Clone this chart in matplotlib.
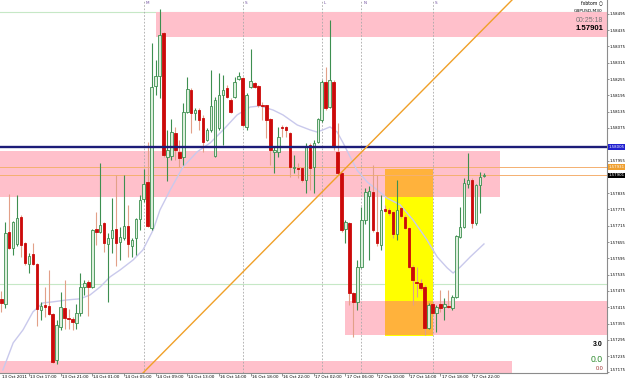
import matplotlib
matplotlib.use("Agg")
from matplotlib import pyplot as plt
from matplotlib import font_manager
from matplotlib.patches import Rectangle

# GBPUSD M30 candles, oldest first
opens = [1.57446, 1.57427, 1.57692, 1.57633, 1.57648, 1.57747, 1.57652, 1.57575, 1.57611, 1.57575,
         1.57405, 1.57424, 1.57420, 1.57391, 1.57221, 1.57343, 1.57413, 1.57376, 1.57372, 1.57357,
         1.57394, 1.57490, 1.57508, 1.57490, 1.57703, 1.57692, 1.57725, 1.57648, 1.57670, 1.57703,
         1.57655, 1.57670, 1.57714, 1.57641, 1.57670, 1.57740, 1.57814, 1.57876, 1.57707, 1.58230,
         1.58266, 1.58425, 1.57968, 1.57972, 1.58057, 1.57987, 1.57968, 1.58134, 1.58215, 1.58130,
         1.58141, 1.58112, 1.58031, 1.58068, 1.57972, 1.58075, 1.58196, 1.58222, 1.58178, 1.58189,
         1.58255, 1.58259, 1.58079, 1.58226, 1.58241, 1.58230, 1.58160, 1.58160, 1.58108, 1.57987,
         1.57987, 1.58079, 1.58079, 1.58057, 1.57928, 1.57928, 1.57928, 1.57884, 1.58012, 1.57931,
         1.58023, 1.58104, 1.58244, 1.58152, 1.58244, 1.57987, 1.57909, 1.57703, 1.57725, 1.57468,
         1.57435, 1.57563, 1.57736, 1.57825, 1.57839, 1.57692, 1.57644, 1.57777, 1.57773, 1.57766,
         1.57685, 1.57781, 1.57747, 1.57707, 1.57563, 1.57508, 1.57505, 1.57490, 1.57339, 1.57427,
         1.57394, 1.57427, 1.57416, 1.57420, 1.57413, 1.57453, 1.57674, 1.57711, 1.57869, 1.57884,
         1.57725, 1.57865, 1.57898]
highs = [1.57475, 1.57729, 1.57832, 1.57733, 1.57828, 1.57755, 1.57655, 1.57615, 1.57652, 1.57578,
         1.57435, 1.57490, 1.57552, 1.57394, 1.57368, 1.57471, 1.57516, 1.57409, 1.57379, 1.57427,
         1.57541, 1.57516, 1.57516, 1.57703, 1.57766, 1.57946, 1.57727, 1.57689, 1.57817, 1.57902,
         1.57711, 1.57902, 1.57792, 1.57670, 1.57744, 1.57828, 1.57924, 1.58023, 1.58388, 1.58325,
         1.58513, 1.58428, 1.58068, 1.58108, 1.58079, 1.58031, 1.58167, 1.58263, 1.58222, 1.58149,
         1.58149, 1.58123, 1.58075, 1.58288, 1.58189, 1.58277, 1.58270, 1.58233, 1.58185, 1.58263,
         1.58281, 1.58263, 1.58204, 1.58366, 1.58244, 1.58233, 1.58171, 1.58160, 1.58112, 1.58005,
         1.58079, 1.58086, 1.58082, 1.58060, 1.57976, 1.57946, 1.57931, 1.58020, 1.58020, 1.58031,
         1.58112, 1.58252, 1.58299, 1.58472, 1.58252, 1.58093, 1.57913, 1.57736, 1.57727, 1.57471,
         1.57589, 1.57784, 1.57854, 1.57861, 1.57939, 1.57902, 1.57828, 1.57792, 1.57781, 1.57770,
         1.57884, 1.57784, 1.57755, 1.57711, 1.57571, 1.57563, 1.57519, 1.57497, 1.57431, 1.57431,
         1.57424, 1.57479, 1.57449, 1.57479, 1.57460, 1.57681, 1.57784, 1.57891, 1.57983, 1.57891,
         1.57869, 1.57913, 1.57909]
lows = [1.57398, 1.57413, 1.57630, 1.57608, 1.57641, 1.57600, 1.57571, 1.57541, 1.57571, 1.57346,
        1.57368, 1.57379, 1.57387, 1.57210, 1.57206, 1.57332, 1.57335, 1.57335, 1.57332, 1.57335,
        1.57383, 1.57460, 1.57383, 1.57486, 1.57644, 1.57690, 1.57619, 1.57435, 1.57615, 1.57567,
        1.57589, 1.57663, 1.57600, 1.57600, 1.57608, 1.57700, 1.57803, 1.57711, 1.57700, 1.58196,
        1.58185, 1.57968, 1.57880, 1.57957, 1.57957, 1.57931, 1.57939, 1.58130, 1.58057, 1.58104,
        1.58068, 1.57987, 1.58027, 1.58060, 1.57968, 1.58068, 1.58012, 1.58185, 1.58130, 1.58185,
        1.58252, 1.58079, 1.58068, 1.58222, 1.58222, 1.58152, 1.58104, 1.58038, 1.57939, 1.57909,
        1.57968, 1.58042, 1.58042, 1.57895, 1.57909, 1.57891, 1.57876, 1.57836, 1.57847, 1.57836,
        1.58020, 1.58097, 1.58141, 1.58149, 1.57994, 1.57902, 1.57692, 1.57652, 1.57424, 1.57306,
        1.57405, 1.57560, 1.57722, 1.57589, 1.57692, 1.57641, 1.57626, 1.57766, 1.57755, 1.57670,
        1.57663, 1.57744, 1.57703, 1.57560, 1.57424, 1.57453, 1.57479, 1.57313, 1.57335, 1.57391,
        1.57324, 1.57398, 1.57368, 1.57413, 1.57405, 1.57449, 1.57670, 1.57707, 1.57854, 1.57707,
        1.57718, 1.57762, 1.57895]
closes = [1.57431, 1.57689, 1.57633, 1.57729, 1.57744, 1.57644, 1.57578, 1.57604, 1.57575, 1.57409,
          1.57420, 1.57416, 1.57391, 1.57214, 1.57350, 1.57416, 1.57376, 1.57372, 1.57361, 1.57394,
          1.57490, 1.57505, 1.57490, 1.57700, 1.57692, 1.57718, 1.57652, 1.57670, 1.57700, 1.57652,
          1.57674, 1.57714, 1.57648, 1.57663, 1.57740, 1.57810, 1.57869, 1.57714, 1.58226, 1.58266,
          1.58417, 1.57976, 1.57994, 1.58060, 1.57994, 1.57965, 1.58134, 1.58219, 1.58130, 1.58141,
          1.58104, 1.58023, 1.58068, 1.58156, 1.58178, 1.58196, 1.58215, 1.58189, 1.58134, 1.58244,
          1.58266, 1.58086, 1.58196, 1.58248, 1.58226, 1.58160, 1.58156, 1.58104, 1.57994, 1.57994,
          1.58042, 1.58075, 1.58068, 1.57931, 1.57931, 1.57924, 1.57884, 1.58005, 1.57928, 1.58020,
          1.58108, 1.58244, 1.58149, 1.58252, 1.58005, 1.57909, 1.57700, 1.57729, 1.57468, 1.57435,
          1.57563, 1.57736, 1.57839, 1.57843, 1.57700, 1.57652, 1.57773, 1.57770, 1.57762, 1.57685,
          1.57773, 1.57751, 1.57707, 1.57563, 1.57516, 1.57505, 1.57486, 1.57339, 1.57424, 1.57394,
          1.57416, 1.57413, 1.57427, 1.57416, 1.57453, 1.57678, 1.57711, 1.57873, 1.57884, 1.57725,
          1.57865, 1.57895, 1.57901]

tick_bars = [7, 15, 23, 31, 39, 47, 55, 63, 71, 79, 87, 95, 103, 111, 119]
tick_labels = ["13 Oct 17:00", "13 Oct 21:00", "14 Oct 01:00", "14 Oct 05:00", "14 Oct 09:00",
               "14 Oct 13:00", "16 Oct 14:00", "16 Oct 18:00", "16 Oct 22:00", "17 Oct 02:00",
               "17 Oct 06:00", "17 Oct 10:00", "17 Oct 14:00", "17 Oct 18:00", "17 Oct 22:00"]
first_label = "13 Oct 2011"

# moving average
ma_bars = [0.4, 3.0, 5.5, 8.0, 10.5, 13.1, 16.6, 19.9, 22.4, 25.0, 27.5, 30.0, 33.3, 35.8, 38.4,
           40.1, 42.7, 45.9, 49.5, 52.8, 56.1, 59.6, 62.9, 65.4, 68.7, 71.2, 74.8, 78.0, 79.8,
           81.3, 83.1, 84.9, 86.4, 88.2, 89.9, 92.5, 95.0, 97.5, 100.8, 104.1, 107.6, 110.2,
           112.7, 114.2, 116.0, 118.5, 122.0]
ma_values = [1.57184, 1.57284, 1.57332, 1.57398, 1.57431, 1.57435, 1.57442, 1.57446, 1.57460,
             1.57490, 1.57527, 1.57552, 1.57589, 1.57626, 1.57700, 1.57773, 1.57847, 1.57931,
             1.57987, 1.58020, 1.58068, 1.58123, 1.58152, 1.58156, 1.58141, 1.58123, 1.58086,
             1.58068, 1.58060, 1.58068, 1.58079, 1.58060, 1.58020, 1.57968, 1.57920, 1.57876,
             1.57847, 1.57817, 1.57792, 1.57736, 1.57663, 1.57600, 1.57560, 1.57541, 1.57563,
             1.57600, 1.57648]

# supply / demand zones
zone_from = [39, -5, 87, -5]
zone_to = [160, 126, 160, 129]
zone_top = [1.58502, 1.57990, 1.57438, 1.57218]
zone_bottom = [1.58410, 1.57821, 1.57313, 1.57100]

box_from, box_to = 97, 109
box_top, box_bottom = 1.57924, 1.57310

sep_bars = [36, 61, 81, 91, 109]
sep_names = ["M", "S", "L", "N", "S"]

blue_level = 1.58005
orange_level = 1.57931
bid = 1.57901
green_levels = [1.58500, 1.57501]
trend_a = (35.8, 1.57173)
trend_b = (126.1, 1.58502)

names = {f.name for f in font_manager.fontManager.ttflist}
narrow = "Liberation Sans Narrow" if "Liberation Sans Narrow" in names else "DejaVu Sans"
small = 3.7 if narrow != "DejaVu Sans" else 3.0
scale_size = 3.5 if narrow != "DejaVu Sans" else 2.8

W, H = 625, 381
fig = plt.figure(figsize=(W / 100, H / 100), dpi=100)
ax = fig.add_axes([0, 8 / H, 607 / W, 373 / H])
ax.set_xlim(-0.33, 153.1)
ax.set_ylim(1.57173, 1.58546)

for x0, x1, t, b in zip(zone_from, zone_to, zone_top, zone_bottom):
    ax.add_patch(Rectangle((x0, b), x1 - x0, t - b, facecolor="#ffc0cb", lw=0, zorder=1))
ax.add_patch(Rectangle((box_from, box_bottom), box_to - box_from, box_top - box_bottom,
                       facecolor="#ffff00", lw=0, zorder=1.5))
for x0, x1, t, b in zip(zone_from, zone_to, zone_top, zone_bottom):
    lo, hi = max(b, box_bottom), min(t, box_top)
    l, r = max(x0, box_from), min(x1, box_to)
    if hi > lo and r > l:
        ax.add_patch(Rectangle((l, lo), r - l, hi - lo, facecolor="#ffb23c", lw=0, zorder=1.6))

for g in green_levels:
    ax.axhline(g, color="#c6e8c6", lw=0.8, zorder=0.8)
for b in sep_bars:
    ax.axvline(b, color="#a8a8a8", lw=0.6, ls=(0, (2, 2)), zorder=2)
ax.axhline(orange_level, color="#f4b070", lw=0.7, zorder=2.5)
ax.axhline(bid, color="#f4b070", lw=0.7, zorder=2.5)

ma_line, = ax.plot(ma_bars, ma_values, color="#c9c9ec", lw=1.0, zorder=2.8)

idx = list(range(len(opens)))
up = [c >= o for o, c in zip(opens, closes)]
wick_col = ["#3d8f50" if u else "#e2a088" for u in up]
ax.vlines(idx, lows, highs, colors=wick_col, lw=0.8, zorder=3)
body_low = [min(o, c) for o, c in zip(opens, closes)]
body_h = [max(abs(c - o), 0.00002) for o, c in zip(opens, closes)]
face = ["#dcefdc" if u else "#cc0a0a" for u in up]
edge = ["#3d8f50" if u else "#cc0a0a" for u in up]
ax.bar(idx, body_h, bottom=body_low, width=0.64, color=face, edgecolor=edge, lw=0.6, zorder=3.2)

ax.axhline(blue_level, color="#1c1c78", lw=1.7, zorder=4)
ax.axline(trend_a, trend_b, color="#f0a028", lw=1.0, zorder=4)

for b, n in zip(sep_bars, sep_names):
    ax.text(b + 0.5, 0.996, n, transform=ax.get_xaxis_transform(), fontsize=3, color="#7050a0",
            ha="left", va="top")

# axes
for s in ["top", "left"]:
    ax.spines[s].set_visible(False)
for s in ["right", "bottom"]:
    ax.spines[s].set_color("#8c8c8c")
    ax.spines[s].set_linewidth(0.8)
ax.yaxis.tick_right()
levels = [1.57175 + 0.0006 * k for k in range(23)]
covered = [blue_level, bid]
ax.set_yticks(levels)
ax.set_yticklabels(["" if min(abs(v - c) for c in covered) < 0.0002 else "%.5f" % v
                    for v in levels], fontsize=scale_size, family=narrow)
# lowest label sits on the corner, lift it inside the figure
ax.get_yticklabels()[0].set_va("bottom")
ax.tick_params(axis="y", length=1.5, width=0.6, color="#808080", pad=0.5)
ax.set_xticks(tick_bars)
ax.set_xticklabels([])
ax.tick_params(axis="x", length=2, width=0.6, color="#808080")
for b, lab in zip([-0.2] + tick_bars, [first_label] + tick_labels):
    ax.text(b + 0.3, -0.012, lab, transform=ax.get_xaxis_transform(), fontsize=small,
            family=narrow, ha="left", va="center", clip_on=False)

# price boxes on the scale
for lvl, col, tc in [(blue_level, "#2020d0", "white"), (orange_level, "#f0a030", "white"),
                     (bid, "#000000", "white")]:
    ax.text(1.003, (lvl - 1.57173) / (1.58546 - 1.57173), "%.5f" % lvl, transform=ax.transAxes,
            fontsize=scale_size, family=narrow, color=tc, ha="left", va="center", zorder=6,
            bbox=dict(boxstyle="square,pad=0.15", facecolor=col, edgecolor="none"), clip_on=False)

# info block top right
fig.text(603 / W, 1 - 3 / H, "fxbtom \u25cb", fontsize=3.3, ha="right", va="center")
fig.text(603 / W, 1 - 11 / H, "GBPUSD,M30", fontsize=3.2, ha="right", va="center")
fig.text(603 / W, 1 - 20 / H, "00:25:18", fontsize=5, color="#777777", ha="right", va="center",
         family="Liberation Sans")
fig.text(603 / W, 1 - 29 / H, "1.57901", fontsize=5.6, fontweight="bold", ha="right",
         va="center", family="Liberation Sans")
fig.text(603 / W, 1 - 345 / H, "3.0", fontsize=5, fontweight="bold", ha="right", va="center",
         family="Liberation Sans")
fig.text(603 / W, 1 - 359 / H, "0.0", fontsize=6.2, color="#2e8b2e", ha="right", va="center",
         family="Liberation Sans")
fig.text(603 / W, 1 - 368 / H, "0.0", fontsize=4, color="#a03030", ha="right", va="center",
         family="Liberation Sans")

fig.savefig("out.png", dpi=100)
